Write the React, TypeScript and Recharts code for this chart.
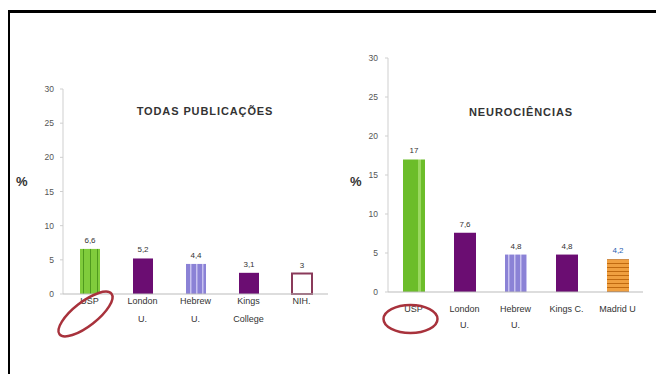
import { BarChart, Bar, XAxis, YAxis, Cell, LabelList } from "recharts";

const allCategories = ["USP", "London U.", "Hebrew U.", "Kings College", "NIH."];
const allTickLines = [["USP"], ["London", "U."], ["Hebrew", "U."], ["Kings", "College"], ["NIH."]];
const allValues = [6.6, 5.2, 4.4, 3.1, 3];
const neuroCategories = ["USP", "London U.", "Hebrew U.", "Kings C.", "Madrid U"];
const neuroTickLines = [["USP"], ["London", "U."], ["Hebrew", "U."], ["Kings C."], ["Madrid U"]];
const neuroValues = [17, 7.6, 4.8, 4.8, 4.2];
const yTicks = [0, 5, 10, 15, 20, 25, 30];

const allFills = ["url(#greenStripe)", "#6b0d72", "url(#lavStripe)", "#6b0d72", "#ffffff"];
const allStrokes = ["none", "none", "none", "none", "#8a3a5a"];
const neuroFills = ["url(#greenStripe2)", "#6b0d72", "url(#lavStripe)", "#6b0d72", "url(#orangeStripe)"];
const allLabelColors = ["#333", "#333", "#333", "#333", "#333"];
const neuroLabelColors = ["#333", "#333", "#333", "#333", "#2a5fb0"];

const allData = allCategories.map((name, i) => ({ name, value: allValues[i], lines: allTickLines[i] }));
const neuroData = neuroCategories.map((name, i) => ({ name, value: neuroValues[i], lines: neuroTickLines[i] }));

const FONT = "Liberation Sans, Arial, sans-serif";
const fmt = (v: any) => String(v).replace(".", ",");

function Defs() {
  return (
    <defs>
      <pattern id="greenStripe" width="7" height="4" patternUnits="userSpaceOnUse" x="0">
        <rect width="7" height="4" fill="#80cc3c" />
        <rect x="6" width="1" height="4" fill="#4f9a1e" />
      </pattern>
      <pattern id="greenStripe2" width="22" height="4" patternUnits="userSpaceOnUse">
        <rect width="22" height="4" fill="#6cbd2a" />
        <rect x="0" width="3" height="4" fill="#9ad860" />
      </pattern>
      <pattern id="lavStripe" width="6" height="4" patternUnits="userSpaceOnUse">
        <rect width="6" height="4" fill="#8b82d6" />
        <rect x="4" width="1.5" height="4" fill="#c8c2f0" />
      </pattern>
      <pattern id="orangeStripe" width="4" height="4" patternUnits="userSpaceOnUse">
        <rect width="4" height="4" fill="#f0a040" />
        <rect y="3" width="4" height="1" fill="#c06a10" />
      </pattern>
    </defs>
  );
}

function makeTick(data: any[], lineGap: number, firstDy: number, ellipse: "tilt" | "flat") {
  return function Tick(props: any) {
    const { x, y, payload, index } = props;
    const lines: string[] = data[index]?.lines ?? [String(payload.value)];
    return (
      <g>
        {lines.map((l, i) => (
          <text
            key={i}
            x={x}
            y={y + firstDy + i * lineGap}
            textAnchor="middle"
            fill="#333"
            fontSize={9}
            fontFamily={FONT}
          >
            {l}
          </text>
        ))}
        {payload.value === "USP" &&
          (ellipse === "tilt" ? (
            <ellipse
              cx={x - 4}
              cy={y + 12}
              rx={33}
              ry={12}
              transform={`rotate(-38 ${x - 4} ${y + 12})`}
              fill="none"
              stroke="#a8323c"
              strokeWidth={2.5}
            />
          ) : (
            <ellipse cx={x - 3} cy={y + 19} rx={27} ry={14} fill="none" stroke="#a8323c" strokeWidth={2.5} />
          ))}
      </g>
    );
  };
}

function makeValueLabel(colors: string[]) {
  return function ValueLabel(p: any) {
    return (
      <text
        x={p.x + p.width / 2}
        y={p.y - 6}
        textAnchor="middle"
        fontSize={8}
        fill={colors[p.index]}
        fontFamily={FONT}
      >
        {fmt(p.value)}
      </text>
    );
  };
}

const axisTick = { fontSize: 8.5, fill: "#555", fontFamily: FONT };

const pctStyle = {
  position: "absolute" as const,
  top: 174,
  fontSize: 13,
  fontWeight: "bold" as const,
  color: "#333",
  fontFamily: FONT,
};

const titleStyle = {
  position: "absolute" as const,
  textAlign: "center" as const,
  fontSize: 11,
  letterSpacing: 0.9,
  fontWeight: "bold" as const,
  color: "#333",
  fontFamily: FONT,
  whiteSpace: "nowrap" as const,
};

export default function App() {
  return (
    <div style={{ position: "relative", width: 664, height: 374, margin: "-8px 0 0 -8px", background: "#fff" }}>
      <div
        style={{
          position: "absolute",
          left: 7,
          top: 10,
          right: 0,
          bottom: 0,
          borderTop: "3px solid #000",
          borderLeft: "3px solid #000",
        }}
      />
      <div style={{ position: "absolute", left: 0, top: 0 }}>
        <BarChart width={340} height={374} data={allData} margin={{ top: 89, right: 12, bottom: 20, left: 33 }}>
          <Defs />
          <YAxis
            domain={[0, 30]}
            ticks={yTicks}
            width={30}
            tick={axisTick}
            tickSize={3}
            tickMargin={6}
            axisLine={{ stroke: "#cfcfcf" }}
            tickLine={{ stroke: "#cfcfcf" }}
            interval={0}
          />
          <XAxis
            dataKey="name"
            height={60}
            axisLine={{ stroke: "#bbb" }}
            tickLine={false}
            interval={0}
            tick={makeTick(allData, 18, 2, "tilt")}
          />
          <Bar dataKey="value" barSize={20} isAnimationActive={false} strokeWidth={2}>
            {allData.map((d, i) => (
              <Cell key={d.name} fill={allFills[i]} stroke={allStrokes[i]} />
            ))}
            <LabelList dataKey="value" content={makeValueLabel(allLabelColors)} />
          </Bar>
        </BarChart>
      </div>
      <div style={{ position: "absolute", left: 330, top: 0 }}>
        <BarChart width={334} height={374} data={neuroData} margin={{ top: 58, right: 21, bottom: 22, left: 28 }}>
          <Defs />
          <YAxis
            domain={[0, 30]}
            ticks={yTicks}
            width={30}
            tick={axisTick}
            tickSize={3}
            tickMargin={7}
            axisLine={{ stroke: "#cfcfcf" }}
            tickLine={{ stroke: "#cfcfcf" }}
            interval={0}
          />
          <XAxis
            dataKey="name"
            height={60}
            axisLine={{ stroke: "#bbb" }}
            tickLine={false}
            interval={0}
            tick={makeTick(neuroData, 16, 12, "flat")}
          />
          <Bar dataKey="value" barSize={22} isAnimationActive={false}>
            {neuroData.map((d, i) => (
              <Cell key={d.name} fill={neuroFills[i]} />
            ))}
            <LabelList dataKey="value" content={makeValueLabel(neuroLabelColors)} />
          </Bar>
        </BarChart>
      </div>
      <div style={{ ...pctStyle, left: 16 }}>%</div>
      <div style={{ ...pctStyle, left: 350 }}>%</div>
      <div style={{ ...titleStyle, left: 110, top: 105, width: 190 }}>TODAS PUBLICAÇÕES</div>
      <div style={{ ...titleStyle, left: 426, top: 106, width: 190 }}>NEUROCIÊNCIAS</div>
    </div>
  );
}
